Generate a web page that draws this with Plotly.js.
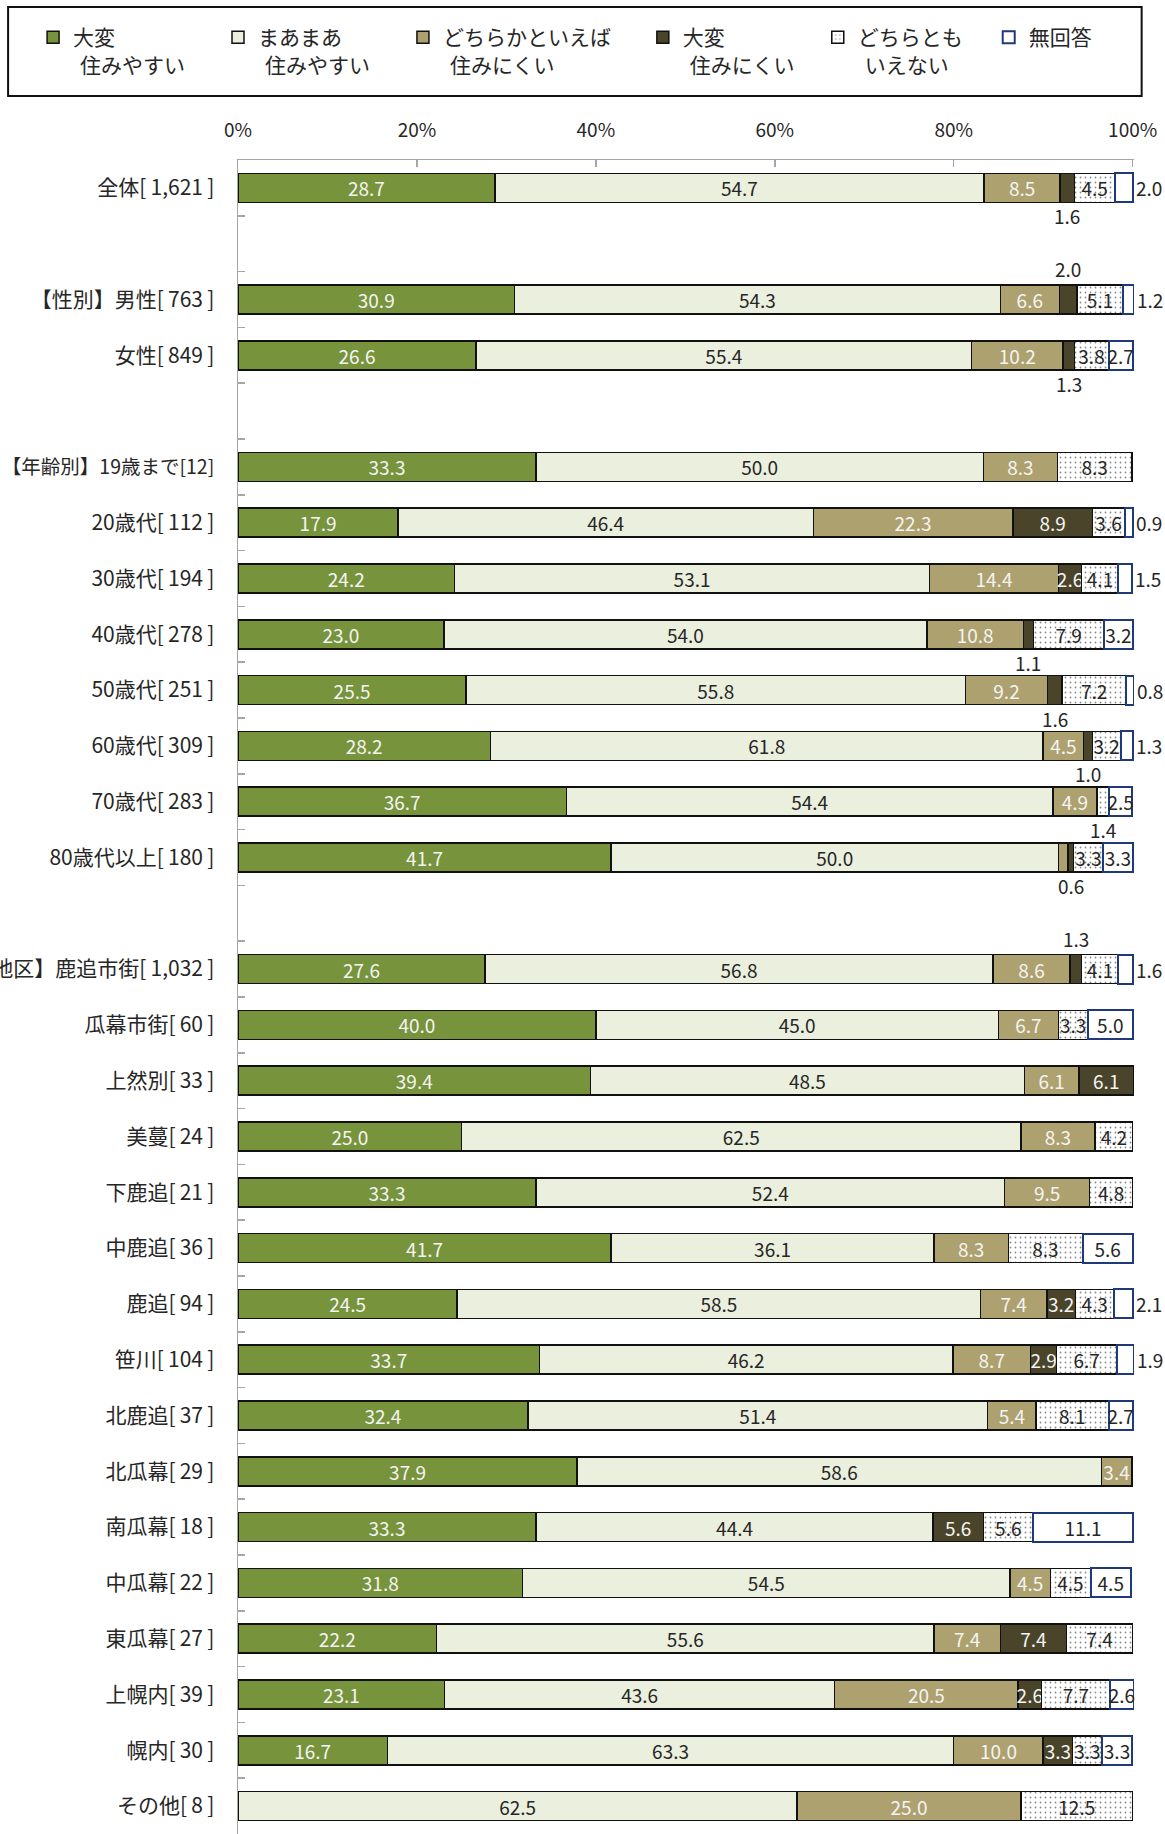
<!DOCTYPE html>
<html>
<head>
<meta charset="utf-8">
<script src="https://cdn.plot.ly/plotly-3.0.1.min.js"></script>
<style>html,body{margin:0;padding:0;background:#fff;}#chart{width:1165px;height:1834px;}</style>
</head>
<body>
<div id="chart"></div>
<script>
// ---- data ----
const categories = ['全体[1,621]','\u200b','【性別】男性[763]','女性[849]','\u200b\u200b',
  '【年齢別】19歳まで[12]','20歳代[112]','30歳代[194]','40歳代[278]','50歳代[251]','60歳代[309]','70歳代[283]','80歳代以上[180]','\u200b\u200b\u200b',
  '【地区】鹿追市街[1,032]','瓜幕市街[60]','上然別[33]','美蔓[24]','下鹿追[21]','中鹿追[36]','鹿追[94]','笹川[104]','北鹿追[37]','北瓜幕[29]','南瓜幕[18]','中瓜幕[22]','東瓜幕[27]','上幌内[39]','幌内[30]','その他[8]'];

const seriesNames = ['大変<br>\u2004住みやすい','まあまあ<br>\u2004住みやすい','どちらかといえば<br>\u2004住みにくい','大変<br>\u2004住みにくい','どちらとも<br>\u2004いえない','無回答'];

const veryEasy   = [28.7,null,30.9,26.6,null,33.3,17.9,24.2,23.0,25.5,28.2,36.7,41.7,null,27.6,40.0,39.4,25.0,33.3,41.7,24.5,33.7,32.4,37.9,33.3,31.8,22.2,23.1,16.7,0];
const fairlyEasy = [54.7,null,54.3,55.4,null,50.0,46.4,53.1,54.0,55.8,61.8,54.4,50.0,null,56.8,45.0,48.5,62.5,52.4,36.1,58.5,46.2,51.4,58.6,44.4,54.5,55.6,43.6,63.3,62.5];
const ratherHard = [8.5,null,6.6,10.2,null,8.3,22.3,14.4,10.8,9.2,4.5,4.9,1.1,null,8.6,6.7,6.1,8.3,9.5,8.3,7.4,8.7,5.4,3.4,0,4.5,7.4,20.5,10.0,25.0];
const veryHard   = [1.6,null,2.0,1.3,null,0,8.9,2.6,1.1,1.6,1.0,0,0.6,null,1.3,0,6.1,0,0,0,3.2,2.9,0,0,5.6,0,7.4,2.6,3.3,0];
const neither    = [4.5,null,5.1,3.8,null,8.3,3.6,4.1,7.9,7.2,3.2,1.4,3.3,null,4.1,3.3,0,4.2,4.8,8.3,4.3,6.7,8.1,0,5.6,4.5,7.4,7.7,3.3,12.5];
const noAnswer   = [2.0,null,1.2,2.7,null,0,0.9,1.5,3.2,0.8,1.3,2.5,3.3,null,1.6,5.0,0,0,0,5.6,2.1,1.9,2.7,0,11.1,4.5,0,2.6,3.3,0];

const seriesValues = [veryEasy, fairlyEasy, ratherHard, veryHard, neither, noAnswer];

const xTicks = [0, 20, 40, 60, 80, 100];
const xTickText = xTicks.map(t => t + '%');

// labels drawn outside the bar: [category, series index, placement]
const outsideLabels = [
  ['全体[1,621]',3,'below'], ['全体[1,621]',5,'right'],
  ['【性別】男性[763]',3,'above'], ['【性別】男性[763]',5,'right'],
  ['女性[849]',3,'below'],
  ['20歳代[112]',5,'right'],
  ['30歳代[194]',5,'right'],
  ['40歳代[278]',3,'below'],
  ['50歳代[251]',3,'below'], ['50歳代[251]',5,'right'],
  ['60歳代[309]',3,'below'], ['60歳代[309]',5,'right'],
  ['70歳代[283]',4,'below'],
  ['80歳代以上[180]',3,'below'],
  ['【地区】鹿追市街[1,032]',3,'above'], ['【地区】鹿追市街[1,032]',5,'right'],
  ['鹿追[94]',5,'right'], ['笹川[104]',5,'right']
];
// labels not shown at all
const hiddenLabels = [['80歳代以上[180]',2]];

// ---- style ----
const FONT = '"Noto Sans CJK JP","Noto Sans",sans-serif';
const fillColors = ['#77933C','#EBF0DE','#ADA16F','#4A452A','#FFFFFF','#FFFFFF'];
const lineColors = ['#111','#111','#111','#111','#111','#1F3A7A'];
const textColors = ['#F4F4F4','#262626','#F4F4F4','#F4F4F4','#262626','#262626'];

const XMAX = 100.15;               // a hair past 100 so rounded totals of 100.1 stay inside
const W = 1165, H = 1834, L = 238, X100 = 1133, T = 160;
const PR = L + (X100 - L) * XMAX / 100;
const px2x = p => (p - L) / (PR - L);
const px2y = p => 1 - (p - T) / (H - T);

const isOut = (c, s) => outsideLabels.some(o => o[0] === categories[c] && o[1] === s) ||
                        hiddenLabels.some(o => o[0] === categories[c] && o[1] === s);

// the age-group header label is squeezed a little, as in the source, so it fits the left edge
const tickLabel = c => c.startsWith('【年齢別】')
  ? '<span style="font-size:19.5px">' + c + '</span>'
  : c.replace('[', '[\u2009').replace(']', '\u2009]');

const legendTextX = [73, 258, 443, 683, 858, 1029];
const legendKey = s => 'legend' + (s + 2);

const traces = seriesValues.map((vals, s) => {
  const tr = {
    type: 'bar', orientation: 'h', name: seriesNames[s],
    y: categories,
    x: vals.map(v => (v === null || v === 0) ? null : v),
    text: vals.map((v, c) => (v === null || v === 0 || isOut(c, s)) ? '' : v.toFixed(1)),
    textposition: 'inside', insidetextanchor: 'middle', textangle: 0, constraintext: 'none',
    textfont: {family: FONT, size: 19, color: textColors[s]},
    insidetextfont: {family: FONT, size: 19, color: textColors[s]},
    cliponaxis: false,
    marker: {color: fillColors[s], line: {color: lineColors[s], width: s === 5 ? 2 : 1.5}},
    hoverinfo: 'skip',
    showlegend: true,
    legend: legendKey(s)
  };
  if (s === 4) {
    tr.marker.pattern = {shape: '.', fgcolor: '#8a8a8a', bgcolor: '#FFFFFF', size: 5, solidity: 0.1};
  }
  return tr;
});

// outside labels as annotations, positioned from the data
const annotations = outsideLabels.map(([cat, s, pos]) => {
  const c = categories.indexOf(cat);
  let start = 0;
  for (let k = 0; k < s; k++) start += seriesValues[k][c] || 0;
  const v = seriesValues[s][c];
  const a = {xref: 'x', yref: 'y', y: cat, text: v.toFixed(1), showarrow: false,
             font: {family: FONT, size: 19, color: '#262626'}};
  if (pos === 'right') { a.x = start + v; a.xanchor = 'left'; a.xshift = 1; }
  else { a.x = start + v / 2; a.xanchor = 'center'; a.yshift = pos === 'below' ? -28 : 31; }
  return a;
});

const layout = {
  width: W, height: H,
  margin: {l: L, r: W - PR, t: T, b: 0, autoexpand: false},
  paper_bgcolor: '#fff', plot_bgcolor: '#fff',
  showlegend: true,
  barmode: 'stack', bargap: 0.48,
  font: {family: FONT, size: 19, color: '#262626'},
  uniformtext: {mode: 'show', minsize: 19},
  xaxis: {
    side: 'top', range: [0, XMAX], autorange: false, tickvals: xTicks, ticktext: xTickText,
    ticks: 'inside', ticklen: 7, tickcolor: '#A6A6A6', tickwidth: 1.5,
    showline: true, linecolor: '#A6A6A6', linewidth: 1.5, showgrid: false, zeroline: false,
    tickfont: {family: FONT, size: 19, color: '#262626'}, ticklabelstandoff: 14, fixedrange: true
  },
  yaxis: {
    type: 'category', categoryorder: 'array', categoryarray: categories,
    range: [categories.length - 0.5, -0.5], autorange: false,
    tickvals: categories, ticktext: categories.map(tickLabel),
    tickson: 'boundaries', ticks: 'inside', ticklen: 7, tickcolor: '#A6A6A6', tickwidth: 1.5,
    showline: true, linecolor: '#A6A6A6', linewidth: 1.5, showgrid: false, zeroline: false,
    tickfont: {family: FONT, size: 21, color: '#262626'}, ticklabelstandoff: 18, fixedrange: true
  },
  annotations: annotations,
  shapes: [{type: 'rect', xref: 'paper', yref: 'paper',
            x0: px2x(8), x1: px2x(1142), y0: px2y(96), y1: px2y(7),
            line: {color: '#111', width: 2}, fillcolor: 'rgba(0,0,0,0)'}]
};
legendTextX.forEach((tx, s) => {
  layout[legendKey(s)] = {x: px2x(tx - 40), y: px2y(17), xanchor: 'left', yanchor: 'top',
                 bgcolor: 'rgba(0,0,0,0)', borderwidth: 0, valign: 'top', visible: true,
                 font: {family: FONT, size: 21, color: '#262626'}};
});

Plotly.newPlot('chart', traces, layout, {displayModeBar: false, staticPlot: true});
</script>
</body>
</html>
